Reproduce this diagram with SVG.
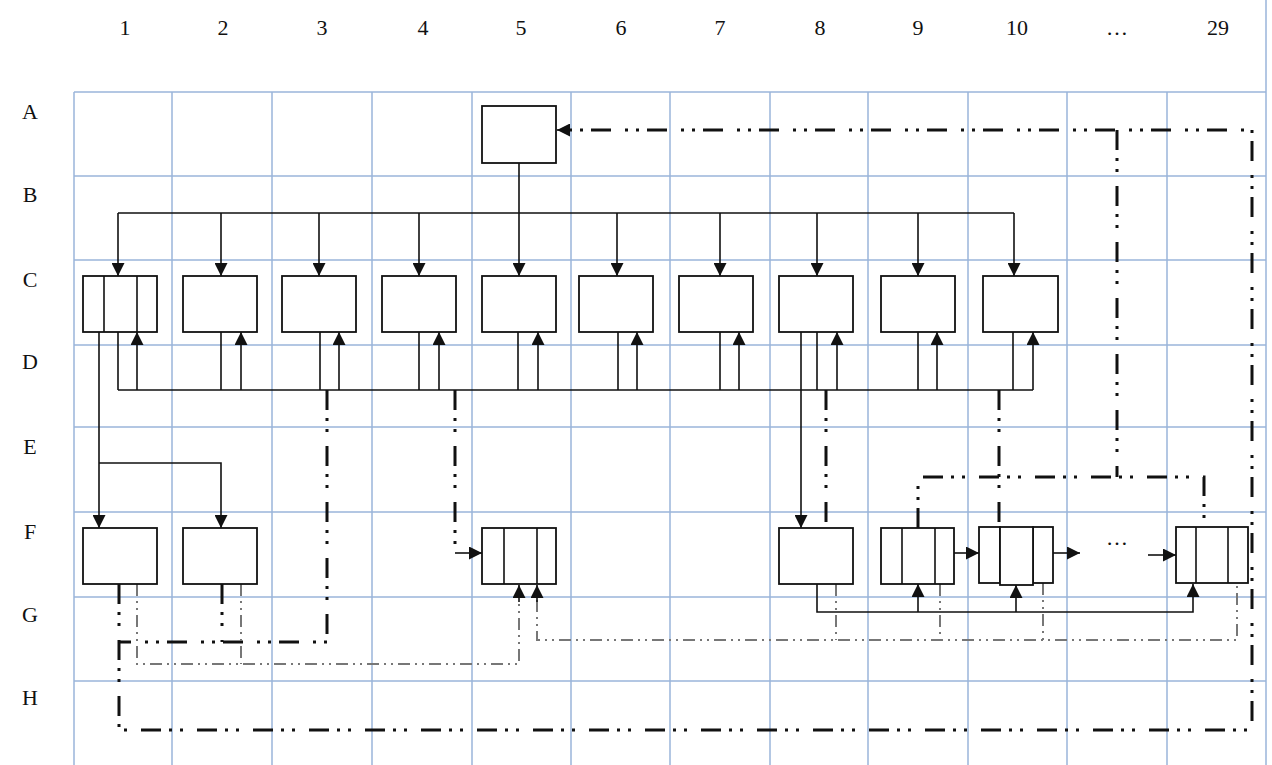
<svg xmlns="http://www.w3.org/2000/svg" width="1272" height="765" viewBox="0 0 1272 765">
<style>
.grid{stroke:#9ab5da;stroke-width:1.5;fill:none}
.lbl{font-family:"Liberation Serif","Times New Roman",serif;font-size:22px;fill:#111;text-anchor:middle}
.box{fill:#fff;stroke:#111;stroke-width:1.8}
.sol{stroke:#111;stroke-width:1.6;fill:none}
.thk{stroke:#111;stroke-width:3;fill:none;stroke-dasharray:20 8 3 8 3 14}
.gry{stroke:#777;stroke-width:2;fill:none;stroke-dasharray:12 5 2 5 2 5}
</style>
<defs>
<marker id="ah" markerUnits="userSpaceOnUse" markerWidth="13" markerHeight="13" viewBox="0 0 13 13" refX="13" refY="6.5" orient="auto">
<path d="M0 0 L13 6.5 L0 13 Z" fill="#111"/>
</marker>
</defs>
<rect width="1272" height="765" fill="#fff"/>
<g id="grid" class="grid">
<path d="M74 92V765M172 92V765M272 92V765M372 92V765M472 92V765M571 92V765M670 92V765M770 92V765M868 92V765M968 92V765M1067 92V765M1167 92V765M1266 0V765"/>
<path d="M74 92H1266M74 176H1266M74 260H1266M74 345H1266M74 427H1266M74 512H1266M74 597H1266M74 681H1266"/>
</g>
<g id="labels">
<text class="lbl" x="125" y="35">1</text>
<text class="lbl" x="223" y="35">2</text>
<text class="lbl" x="322" y="35">3</text>
<text class="lbl" x="423" y="35">4</text>
<text class="lbl" x="521" y="35">5</text>
<text class="lbl" x="621" y="35">6</text>
<text class="lbl" x="720" y="35">7</text>
<text class="lbl" x="820" y="35">8</text>
<text class="lbl" x="918" y="35">9</text>
<text class="lbl" x="1017" y="35">10</text>
<text class="lbl" x="1117" y="35">…</text>
<text class="lbl" x="1218" y="35">29</text>
<text class="lbl" x="30" y="119">A</text>
<text class="lbl" x="30" y="202">B</text>
<text class="lbl" x="30" y="287">C</text>
<text class="lbl" x="30" y="369">D</text>
<text class="lbl" x="30" y="454">E</text>
<text class="lbl" x="30" y="539">F</text>
<text class="lbl" x="30" y="622">G</text>
<text class="lbl" x="30" y="705">H</text>
</g>
<g id="connectors">
<path class="sol" d="M519 163V213M118 213H1014"/>
<path class="sol" marker-end="url(#ah)" d="M118 213V276"/>
<path class="sol" marker-end="url(#ah)" d="M221 213V276"/>
<path class="sol" marker-end="url(#ah)" d="M319 213V276"/>
<path class="sol" marker-end="url(#ah)" d="M419 213V276"/>
<path class="sol" marker-end="url(#ah)" d="M519 213V276"/>
<path class="sol" marker-end="url(#ah)" d="M617 213V276"/>
<path class="sol" marker-end="url(#ah)" d="M720 213V276"/>
<path class="sol" marker-end="url(#ah)" d="M817 213V276"/>
<path class="sol" marker-end="url(#ah)" d="M918 213V276"/>
<path class="sol" marker-end="url(#ah)" d="M1014 213V276"/>
<path class="sol" d="M118 390H1033M118 332V390M221 332V390M320 332V390M419 332V390M518 332V390M618 332V390M720 332V390M817 332V390M918 332V390M1013 332V390"/>
<path class="sol" marker-end="url(#ah)" d="M137 390V332"/>
<path class="sol" marker-end="url(#ah)" d="M241 390V332"/>
<path class="sol" marker-end="url(#ah)" d="M339 390V332"/>
<path class="sol" marker-end="url(#ah)" d="M439 390V332"/>
<path class="sol" marker-end="url(#ah)" d="M538 390V332"/>
<path class="sol" marker-end="url(#ah)" d="M637 390V332"/>
<path class="sol" marker-end="url(#ah)" d="M739 390V332"/>
<path class="sol" marker-end="url(#ah)" d="M837 390V332"/>
<path class="sol" marker-end="url(#ah)" d="M937 390V332"/>
<path class="sol" marker-end="url(#ah)" d="M1033 390V332"/>
<path class="sol" marker-end="url(#ah)" d="M99 332V528"/>
<path class="sol" marker-end="url(#ah)" d="M99 463H221V528"/>
<path class="sol" marker-end="url(#ah)" d="M801 332V528"/>
<path class="sol" marker-end="url(#ah)" d="M455 553H482"/>
<path class="sol" marker-end="url(#ah)" d="M954 553H979"/>
<path class="sol" marker-end="url(#ah)" d="M1053 553H1080"/>
<path class="sol" marker-end="url(#ah)" d="M1148 555H1176"/>
<path class="sol" marker-end="url(#ah)" d="M817 584V612H1193V584"/>
<path class="sol" marker-end="url(#ah)" d="M918 612V584"/>
<path class="sol" marker-end="url(#ah)" d="M1016 612V585"/>
<path class="thk" d="M327 390V642H119"/>
<path class="thk" d="M222 584V642"/>
<path class="thk" d="M119 584V730H1252V130H568"/>
<path class="sol" stroke-width="3" marker-end="url(#ah)" d="M572 130H557"/>
<path class="thk" d="M1117 130V477"/>
<path class="thk" d="M918 528V477H1204V527"/>
<path class="thk" d="M455 390V553"/>
<path class="thk" d="M826 390V528"/>
<path class="thk" d="M999 390V527"/>
<path class="gry" d="M137 584V664H519V600"/>
<path class="gry" d="M241 584V664"/>
<path class="sol" marker-end="url(#ah)" d="M519 602V585"/>
<path class="gry" d="M537 600V640H1237V583"/>
<path class="sol" marker-end="url(#ah)" d="M537 602V585"/>
<path class="gry" d="M836 584V640M940 584V640M1043 583V640"/>
</g>
<g id="nA5"><rect class="box" x="482" y="106" width="74" height="57"/></g>
<g id="nC1"><rect class="box" x="83" y="276" width="74" height="56"/><path class="sol" d="M104 276V332M137 276V332"/></g>
<g id="nC2"><rect class="box" x="183" y="276" width="74" height="56"/></g>
<g id="nC3"><rect class="box" x="282" y="276" width="74" height="56"/></g>
<g id="nC4"><rect class="box" x="382" y="276" width="74" height="56"/></g>
<g id="nC5"><rect class="box" x="482" y="276" width="74" height="56"/></g>
<g id="nC6"><rect class="box" x="579" y="276" width="74" height="56"/></g>
<g id="nC7"><rect class="box" x="679" y="276" width="74" height="56"/></g>
<g id="nC8"><rect class="box" x="779" y="276" width="74" height="56"/></g>
<g id="nC9"><rect class="box" x="881" y="276" width="74" height="56"/></g>
<g id="nC10"><rect class="box" x="983" y="276" width="75" height="56"/></g>
<g id="nF1"><rect class="box" x="83" y="528" width="74" height="56"/></g>
<g id="nF2"><rect class="box" x="183" y="528" width="74" height="56"/></g>
<g id="nF5"><rect class="box" x="482" y="528" width="74" height="56"/><path class="sol" d="M504 528V584M537 528V584"/></g>
<g id="nF8"><rect class="box" x="779" y="528" width="74" height="56"/></g>
<g id="nF9"><rect class="box" x="881" y="528" width="73" height="56"/><path class="sol" d="M902 528V584M935 528V584"/></g>
<g id="nF10"><rect class="box" x="979" y="527" width="21" height="56"/><rect class="box" x="1033" y="527" width="20" height="56"/><rect class="box" x="1000" y="527" width="33" height="58"/></g>
<g id="ndots"><text class="lbl" x="1117" y="545">…</text></g>
<g id="nF29"><rect class="box" x="1176" y="527" width="72" height="56"/><path class="sol" d="M1196 527V583M1228 527V583"/></g>
</svg>
